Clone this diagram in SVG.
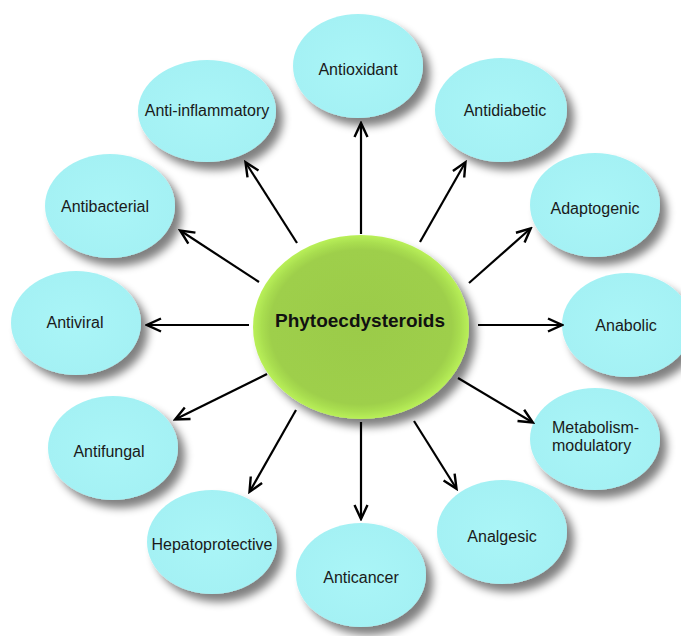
<svg xmlns="http://www.w3.org/2000/svg" width="681" height="636" viewBox="0 0 681 636">
  <style>
    .bubble { fill: url(#cyanFill); filter: url(#shadow); }
    .hub { fill: url(#greenFill); filter: url(#shadow); }
    .label { font-family: "Liberation Sans", Arial, sans-serif; font-size: 16px; fill: #1a1a1a; text-anchor: middle; }
    .title { font-family: "Liberation Sans", Arial, sans-serif; font-size: 19px; font-weight: bold; fill: #111; text-anchor: middle; }
    .link { stroke: #000; stroke-width: 2.2; fill: none; marker-end: url(#head); }
  </style>
  <defs>
    <filter id="shadow" x="-30%" y="-30%" width="170%" height="170%">
      <feGaussianBlur in="SourceAlpha" stdDeviation="4.5"/>
      <feOffset dx="7" dy="8" result="blur"/>
      <feComponentTransfer result="soft">
        <feFuncA type="linear" slope="0.5"/>
      </feComponentTransfer>
      <feMerge>
        <feMergeNode in="soft"/>
        <feMergeNode in="SourceGraphic"/>
      </feMerge>
    </filter>
    <radialGradient id="cyanFill" cx="50%" cy="50%" r="50%">
      <stop offset="0" stop-color="#aaf5f7"/>
      <stop offset="1" stop-color="#a4f1f4"/>
    </radialGradient>
    <radialGradient id="greenFill" cx="50%" cy="50%" r="50%">
      <stop offset="0" stop-color="#9bcb4a"/>
      <stop offset="0.84" stop-color="#9ecf4b"/>
      <stop offset="0.92" stop-color="#a9de50"/>
      <stop offset="1" stop-color="#b9f058"/>
    </radialGradient>
    <marker id="head" markerUnits="userSpaceOnUse" viewBox="-2 -2 18 17" markerWidth="18" markerHeight="17" refX="13" refY="6.5" orient="auto">
      <path d="M0,0 L14,6.5 L0,13" fill="none" stroke="#000" stroke-width="2.4" stroke-linejoin="miter"/>
    </marker>
  </defs>

  <rect width="681" height="636" fill="#ffffff"/>

  <!-- outer effect bubbles -->
  <g id="antioxidant">
    <ellipse class="bubble" cx="358" cy="66" rx="65" ry="52"/>
    <text class="label" x="358" y="75">Antioxidant</text>
  </g>
  <g id="antidiabetic">
    <ellipse class="bubble" cx="501" cy="110" rx="66" ry="52"/>
    <text class="label" x="505" y="116">Antidiabetic</text>
  </g>
  <g id="adaptogenic">
    <ellipse class="bubble" cx="595" cy="205" rx="65" ry="52"/>
    <text class="label" x="595" y="214">Adaptogenic</text>
  </g>
  <g id="anabolic">
    <ellipse class="bubble" cx="627" cy="325" rx="65" ry="52"/>
    <text class="label" x="626" y="331">Anabolic</text>
  </g>
  <g id="metabolism-modulatory">
    <ellipse class="bubble" cx="595" cy="439" rx="65" ry="51"/>
    <text class="label" x="552" y="433" style="text-anchor:start">Metabolism-</text>
    <text class="label" x="552" y="451" style="text-anchor:start">modulatory</text>
  </g>
  <g id="analgesic">
    <ellipse class="bubble" cx="502" cy="532" rx="65" ry="52"/>
    <text class="label" x="502" y="542">Analgesic</text>
  </g>
  <g id="anticancer">
    <ellipse class="bubble" cx="361" cy="575" rx="65" ry="52"/>
    <text class="label" x="361" y="583">Anticancer</text>
  </g>
  <g id="hepatoprotective">
    <ellipse class="bubble" cx="212" cy="542" rx="65" ry="52"/>
    <text class="label" x="212" y="550">Hepatoprotective</text>
  </g>
  <g id="antifungal">
    <ellipse class="bubble" cx="113" cy="448" rx="65" ry="52"/>
    <text class="label" x="109" y="457">Antifungal</text>
  </g>
  <g id="antiviral">
    <ellipse class="bubble" cx="76" cy="323" rx="65" ry="52"/>
    <text class="label" x="75" y="328">Antiviral</text>
  </g>
  <g id="antibacterial">
    <ellipse class="bubble" cx="110" cy="206" rx="65" ry="52"/>
    <text class="label" x="105" y="212">Antibacterial</text>
  </g>
  <g id="anti-inflammatory">
    <ellipse class="bubble" cx="207" cy="111" rx="69" ry="51"/>
    <text class="label" x="207" y="116">Anti-inflammatory</text>
  </g>

  <!-- central hub -->
  <g id="phytoecdysteroids">
    <ellipse class="hub" cx="361" cy="327" rx="108" ry="92"/>
    <text class="title" x="360" y="327">Phytoecdysteroids</text>
  </g>

  <!-- arrows radiating from the hub -->
  <g id="connectors">
    <line class="link" x1="361" y1="234" x2="361" y2="124"/>
    <line class="link" x1="420" y1="242" x2="465" y2="163"/>
    <line class="link" x1="469" y1="283" x2="530" y2="229"/>
    <line class="link" x1="478" y1="325" x2="561" y2="325"/>
    <line class="link" x1="458" y1="378" x2="532" y2="422"/>
    <line class="link" x1="414" y1="421" x2="456" y2="488"/>
    <line class="link" x1="361" y1="422" x2="361" y2="518"/>
    <line class="link" x1="296" y1="410" x2="250" y2="491"/>
    <line class="link" x1="267" y1="374" x2="176" y2="419"/>
    <line class="link" x1="249" y1="325" x2="148" y2="325"/>
    <line class="link" x1="259" y1="282" x2="181" y2="231"/>
    <line class="link" x1="297" y1="243" x2="246" y2="163"/>
  </g>
</svg>
